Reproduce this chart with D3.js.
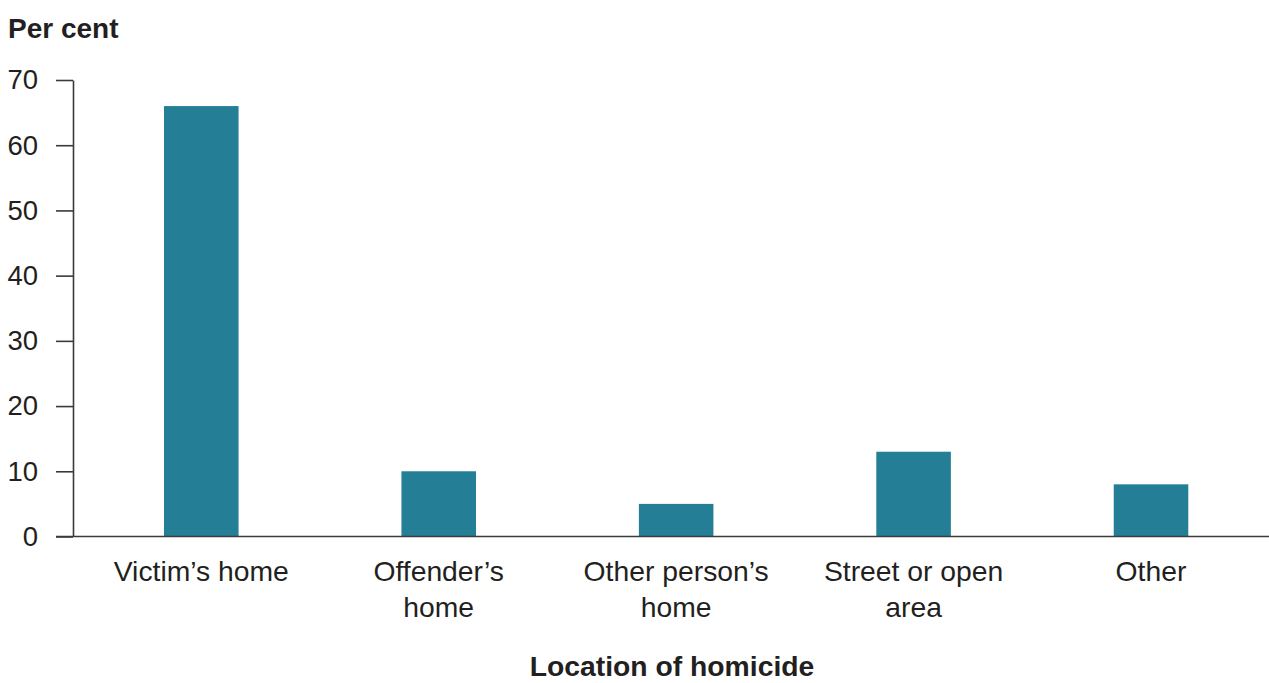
<!DOCTYPE html>
<html><head><meta charset="utf-8">
<script src="https://cdn.jsdelivr.net/npm/d3@7"></script>
<style>body{margin:0;background:#fff}svg{display:block}text{font-family:"Liberation Sans",Arial,sans-serif;fill:#231f20}</style>
</head><body><svg id="c" width="1269" height="683"></svg>
<script>
const categories = ["Victim\u2019s home","Offender\u2019s home","Other person\u2019s home","Street or open area","Other"];
const categoryLines = [["Victim\u2019s home"],["Offender\u2019s","home"],["Other person\u2019s","home"],["Street or open","area"],["Other"]];
const values = [66,10,5,13,8];
const yTicks = [0,10,20,30,40,50,60,70];
const yTitle = "Per cent";
const xTitle = "Location of homicide";

const W=1269,H=683;
const svg=d3.select("#c");
const x0=73, x1=1279.3, yBottom=536.5, yTop=80;
const x=d3.scaleBand().domain(categories).range([x0,x1]).paddingInner(0.686).paddingOuter(0.3833);
const y=d3.scaleLinear().domain([0,70]).range([yBottom,yTop]);
const color="#237e96", axisColor="#3a3a3a";

// bars
svg.append("g").selectAll("rect").data(values).join("rect")
  .attr("x",(d,i)=>x(categories[i])).attr("width",x.bandwidth())
  .attr("y",d=>y(d)).attr("height",d=>y(0)-y(d)).attr("fill",color);

// y axis
const ya=svg.append("g").attr("transform",`translate(${x0},0)`)
  .call(d3.axisLeft(y).tickValues(yTicks).tickSize(17).tickPadding(18).tickSizeOuter(0));
ya.select(".domain").attr("stroke",axisColor).attr("stroke-width",1.6);
ya.selectAll(".tick line").attr("stroke",axisColor).attr("stroke-width",1.6);
ya.selectAll(".tick text").attr("font-size",27.5).attr("font-family","Liberation Sans, Arial, sans-serif").attr("fill","#231f20");

// x axis line
svg.append("line").attr("x1",56).attr("x2",W).attr("y1",yBottom).attr("y2",yBottom)
  .attr("stroke",axisColor).attr("stroke-width",1.6);

// category labels
const lab=svg.append("g");
categoryLines.forEach((lines,i)=>{
  const cx=x(categories[i])+x.bandwidth()/2;
  const t=lab.append("text").attr("text-anchor","middle").attr("font-size",28.3);
  lines.forEach((l,j)=>t.append("tspan").attr("x",cx).attr("y",580.5+j*36.5).text(l));
});

svg.append("text").attr("x",8).attr("y",37.5).attr("font-size",28).attr("font-weight","bold").text(yTitle);
svg.append("text").attr("x",672).attr("y",676).attr("text-anchor","middle").attr("font-size",28.3).attr("font-weight","bold").text(xTitle);
</script></body></html>
